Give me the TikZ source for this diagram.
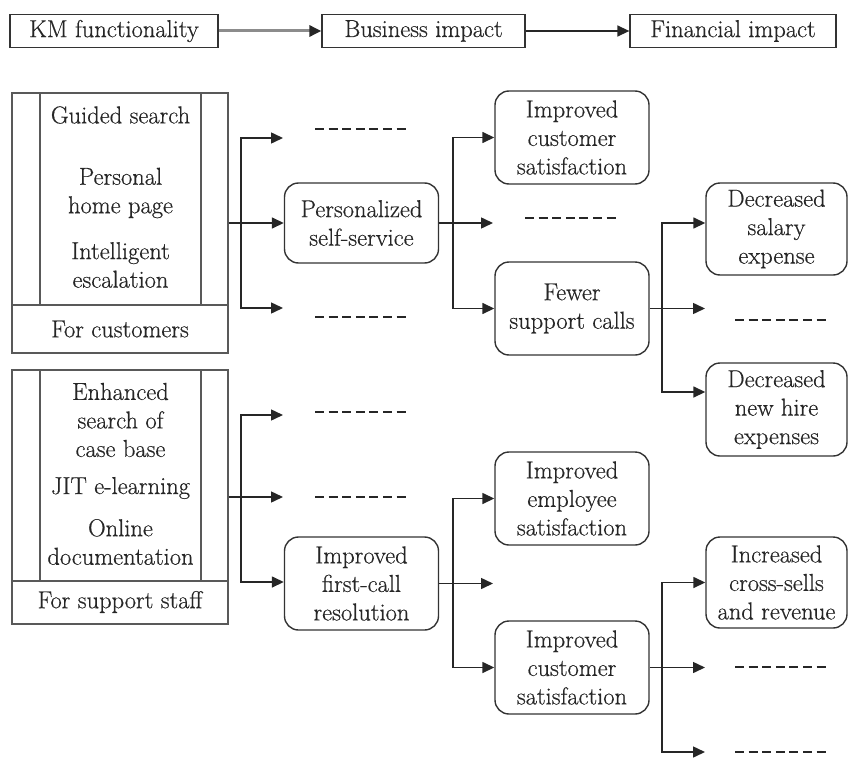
\documentclass[tikz,border=0pt]{standalone}
\usepackage{fontspec}
\setmainfont{Latin Modern Roman}[FakeBold=0.5]
\usetikzlibrary{arrows.meta}
\begin{document}
\begin{tikzpicture}[x=1pt,y=-1pt,
  every node/.append style={font=\fontsize{24.5}{28.5}\selectfont, text=black!85},
  ln/.style={line width=1.5pt, draw=black!85},
  arr/.style={ln, -{Triangle[length=12pt,width=11pt]}},
  hbox/.style={draw=black!80, line width=1.3pt, minimum height=33pt, inner sep=0pt},
  group/.style={draw=black!65, line width=1.3pt, minimum width=216pt, inner sep=0pt},
  item/.style={align=center, inner sep=0pt},
  rbox/.style={draw=black!80, line width=1.4pt, rounded corners=14pt, align=center,
               inner sep=0pt, minimum width=154pt, minimum height=93pt},
  fbox/.style={rbox, minimum width=141pt},
  dashline/.style={line width=1.3pt, draw=black!85, dash pattern=on 9pt off 4.6pt}]
\useasboundingbox (0,0) rectangle (848,760);

% header chain
\node[hbox, minimum width=208pt] (km)  at (114,31)   {KM functionality};
\node[hbox, minimum width=203pt] (biz) at (423.5,31) {Business impact};
\node[hbox, minimum width=206pt] (fin) at (733,31)   {Financial impact};
\draw[line width=3pt, draw=black!45, -{Triangle[length=12pt,width=11pt,color=black!85]}] (km) -- (biz);
\draw[arr] (biz) -- (fin);

% functionality group: customers
\node[group, minimum height=260pt] (cust) at (120,223) {};
\draw[ln, draw=black!65, line width=1.2pt] (40,93) -- (40,305) (201,93) -- (201,305) (12,305) -- (228,305);
\node[item] (gs)  at (120.5,115) {Guided search};
\node[item] (php) at (120.5,193) {Personal\\home page};
\node[item] (ie)  at (120.5,265) {Intelligent\\escalation};
\node[item] (fc)  at (120,329)   {For customers};

% functionality group: support staff
\node[group, minimum height=254pt] (staff) at (120,497) {};
\draw[ln, draw=black!65, line width=1.2pt] (40,370) -- (40,581) (201,370) -- (201,581) (12,581) -- (228,581);
\node[item] (esc) at (120.5,420) {Enhanced\\search of\\case base};
\node[item] (jit) at (120.5,488) {JIT e-learning};
\node[item] (od)  at (120.5,542) {Online\\documentation};
\node[item] (fss) at (120,602)   {For support staff};

% business impacts
\node[rbox, minimum height=80pt] (pss) at (361.5,223)   {Personalized\\self-service};
\node[rbox] (ifc)  at (361.5,583.5) {Improved\\first-call\\resolution};
\node[rbox] (ics1) at (572,137.5)   {Improved\\customer\\satisfaction};
\node[rbox] (fsc)  at (572,308.5)   {Fewer\\support calls};
\node[rbox] (ies)  at (572,498.5)   {Improved\\employee\\satisfaction};
\node[rbox] (ics2) at (572,667.5)   {Improved\\customer\\satisfaction};

% financial impacts
\node[fbox, minimum height=92pt] (dse) at (776.5,229)   {Decreased\\salary\\expense};
\node[fbox] (dnh) at (776.5,409.5) {Decreased\\new hire\\expenses};
\node[fbox, minimum height=91pt] (ixr) at (776.5,582.5) {Increased\\cross-sells\\and revenue};

% open branch ends
\coordinate (o1) at (283,138);
\coordinate (o2) at (283,308);
\coordinate (o3) at (493,223);
\coordinate (o4) at (705,308.5);
\coordinate (o5) at (283,415);
\coordinate (o6) at (283,497);
\coordinate (o7) at (493,583.5);
\coordinate (o8) at (705,667.5);
\coordinate (o9) at (705,752);

% branch points
\coordinate (j1) at (241,223);
\coordinate (j2) at (453,223);
\coordinate (j3) at (662,308.5);
\coordinate (j4) at (241,497);
\coordinate (j5) at (453,583.5);
\coordinate (j6) at (662,667.5);

% customers fan-out
\draw[arr] (cust.east) -- (pss.west);
\draw[arr] (j1) |- (o1);
\draw[arr] (j1) |- (o2);
\draw[arr] (pss.east) -- (o3);
\draw[arr] (j2) |- (ics1.west);
\draw[arr] (j2) |- (fsc.west);
\draw[arr] (fsc.east) -- (o4);
\draw[arr] (j3) |- ([yshift=6pt]dse.west);
\draw[arr] (j3) |- ([yshift=17.5pt]dnh.west);

% support staff fan-out
\draw[ln] (staff.east) -- (j4);
\draw[arr] (j4) -- (o6);
\draw[arr] (j4) |- (o5);
\draw[arr] (j4) |- ([yshift=1.5pt]ifc.west);
\draw[arr] (ifc.east) -- (o7);
\draw[arr] (j5) |- (ies.west);
\draw[arr] (j5) |- (ics2.west);
\draw[arr] (ics2.east) -- (o8);
\draw[arr] (j6) |- (ixr.west);
\draw[arr] (j6) |- (o9);

% unnamed outcomes
\draw[dashline] (315,129) -- (408,129);
\draw[dashline] (315,317) -- (408,317);
\draw[dashline] (525,218) -- (620,218);
\draw[dashline] (735,320) -- (829,320);
\draw[dashline] (315,412) -- (408,412);
\draw[dashline] (315,497) -- (408,497);
\draw[dashline] (735,667) -- (829,667);
\draw[dashline] (735,752) -- (829,752);
\end{tikzpicture}
\end{document}
